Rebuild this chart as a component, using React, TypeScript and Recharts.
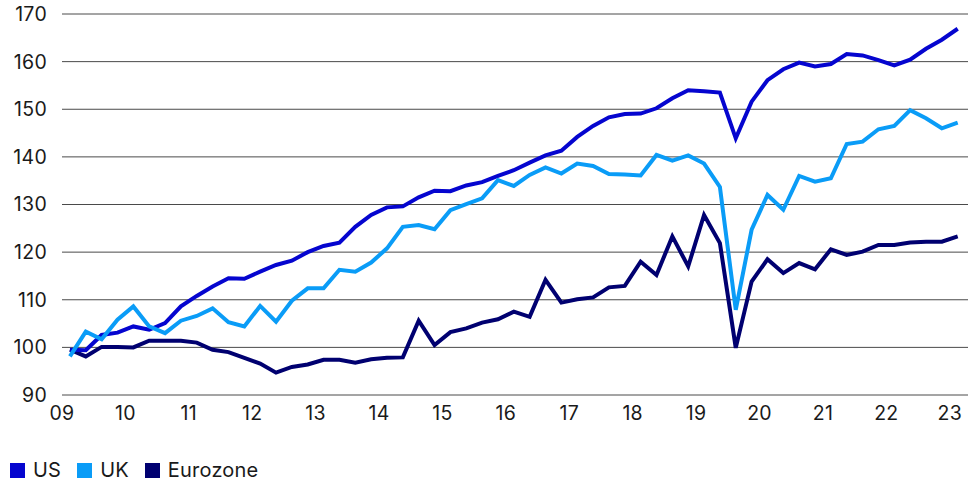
import { LineChart, Line, XAxis, YAxis, CartesianGrid } from 'recharts';

// quarterly index, 2009 Q1 = ~100
const usValues = [
  99.5, 99.4, 102.6, 103.1, 104.4, 103.7, 105.1, 108.6, 110.8, 112.8,
  114.5, 114.4, 115.9, 117.3, 118.2, 120.0, 121.3, 122.0, 125.3, 127.8,
  129.4, 129.6, 131.5, 132.9, 132.8, 134.0, 134.7, 136.0, 137.2, 138.8,
  140.3, 141.3, 144.2, 146.5, 148.3, 149.0, 149.1, 150.2, 152.3, 154.0,
  153.8, 153.5, 143.9, 151.6, 156.1, 158.4, 159.8, 159.0, 159.5, 161.6,
  161.3, 160.3, 159.2, 160.4, 162.7, 164.6, 166.9
];

const ukValues = [
  98.1, 103.3, 101.7, 105.8, 108.6, 104.4, 103.0, 105.6, 106.6, 108.2,
  105.3, 104.4, 108.7, 105.4, 109.8, 112.4, 112.4, 116.3, 115.9, 117.8,
  120.8, 125.3, 125.7, 124.8, 128.8, 130.1, 131.3, 135.1, 133.9, 136.2,
  137.8, 136.5, 138.6, 138.1, 136.4, 136.3, 136.1, 140.4, 139.2, 140.3,
  138.6, 133.7, 107.9, 124.7, 132.0, 128.9, 136.0, 134.8, 135.5, 142.7,
  143.2, 145.8, 146.5, 149.8, 148.1, 146.0, 147.2
];

const ezValues = [
  99.5, 98.1, 100.1, 100.1, 100.0, 101.4, 101.4, 101.4, 101.0, 99.5,
  99.0, 97.8, 96.6, 94.7, 95.9, 96.4, 97.4, 97.4, 96.8, 97.5,
  97.8, 97.9, 105.6, 100.5, 103.2, 104.0, 105.2, 105.9, 107.5, 106.4,
  114.2, 109.4, 110.1, 110.5, 112.6, 112.9, 118.0, 115.2, 123.3, 117.0,
  127.8, 121.9, 99.9, 113.8, 118.5, 115.6, 117.7, 116.4, 120.6, 119.4,
  120.1, 121.5, 121.5, 122.0, 122.2, 122.2, 123.3
];

const yearLabels = ['09', '10', '11', '12', '13', '14', '15', '16', '17', '18', '19', '20', '21', '22', '23'];
const yTicks = [90, 100, 110, 120, 130, 140, 150, 160, 170];

const COLORS = {
  us: '#0505CF',
  uk: '#0A9CF7',
  ez: '#000070'
};

const FONT = 'Inter, "DejaVu Sans", sans-serif';

const chartData = usValues.map((v, i) => ({
  i,
  us: v,
  uk: ukValues[i],
  ez: ezValues[i]
}));

// year labels sit between Q4 and Q1
const xTicks = yearLabels.map((_, k) => k * 4 - 0.5);

const legendItems = [
  { label: 'US', color: COLORS.us },
  { label: 'UK', color: COLORS.uk },
  { label: 'Eurozone', color: COLORS.ez }
];

const tickStyle = { fill: '#1a1a1a', fontSize: 19.5, fontFamily: FONT, letterSpacing: 0.3 };

export default function App() {
  return (
    <div style={{ position: 'absolute', left: 0, top: 0, width: 979, height: 485, background: '#fff', fontFamily: FONT }}>
      <LineChart
        width={979}
        height={485}
        data={chartData}
        margin={{ top: 14, right: 11, left: 0, bottom: 60 }}
      >
        <CartesianGrid vertical={false} stroke="#4a4a4a" strokeWidth={1} />
        <XAxis
          type="number"
          dataKey="i"
          domain={[-0.5, 56.65]}
          ticks={xTicks}
          tickFormatter={(v: number) => yearLabels[Math.round((v + 0.5) / 4)]}
          axisLine={false}
          tickLine={false}
          tickSize={6}
          tickMargin={5}
          height={30}
          interval={0}
          tick={tickStyle}
        />
        <YAxis
          domain={[90, 170]}
          ticks={yTicks}
          axisLine={false}
          tickLine={false}
          tickSize={6}
          tickMargin={9}
          width={62}
          interval={0}
          tick={tickStyle}
        />
        <Line type="linear" dataKey="ez" stroke={COLORS.ez} strokeWidth={4} dot={false} isAnimationActive={false} />
        <Line type="linear" dataKey="us" stroke={COLORS.us} strokeWidth={4} dot={false} isAnimationActive={false} />
        <Line type="linear" dataKey="uk" stroke={COLORS.uk} strokeWidth={4} dot={false} isAnimationActive={false} />
      </LineChart>
      <div style={{ position: 'absolute', left: 10, top: 458, display: 'flex', alignItems: 'center', fontSize: 20, letterSpacing: 0.2, color: '#1a1a1a' }}>
        {legendItems.map((item) => (
          <div key={item.label} style={{ display: 'flex', alignItems: 'center', marginRight: 16 }}>
            <span style={{ display: 'inline-block', width: 15, height: 15, background: item.color, marginRight: 8 }} />
            <span>{item.label}</span>
          </div>
        ))}
      </div>
    </div>
  );
}
